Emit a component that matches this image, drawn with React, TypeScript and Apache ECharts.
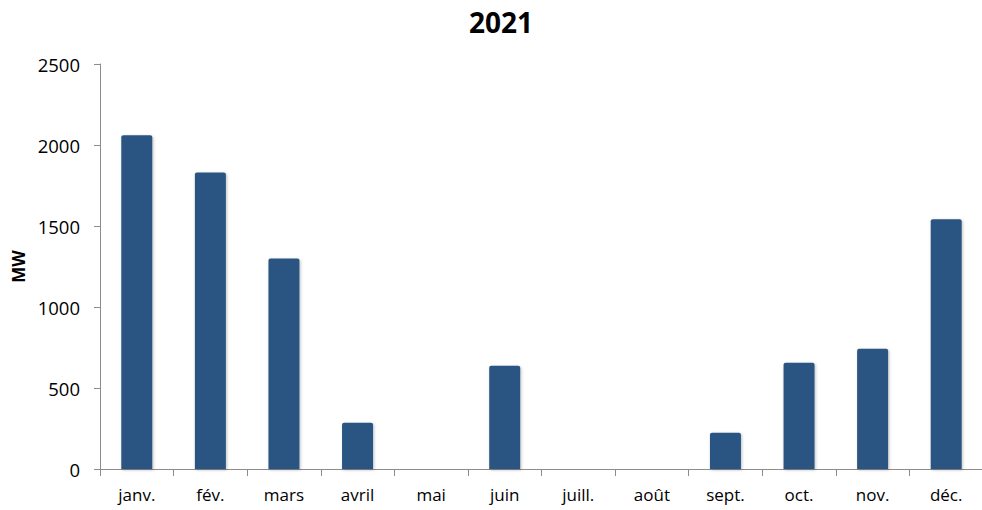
import React, { useEffect, useRef } from "react";
import * as echarts from "echarts";

const months = ["janv.", "fév.", "mars", "avril", "mai", "juin", "juill.", "août", "sept.", "oct.", "nov.", "déc."];
const mwValues = [2060, 1830, 1300, 285, 0, 637, 0, 0, 223, 656, 743, 1541];
const yTicks = [0, 500, 1000, 1500, 2000, 2500];

export default function App() {
  const ref = useRef<HTMLDivElement>(null);
  useEffect(() => {
    if (!ref.current) return;
    const chart = echarts.init(ref.current, undefined, { renderer: "svg" });
    const font = "'Open Sans', Lato, 'Noto Sans', sans-serif";
    chart.setOption({
      animation: false,
      backgroundColor: "#ffffff",
      title: {
        text: "2021",
        left: 496,
        textAlign: "center",
        top: 3,
        textStyle: { fontFamily: font, fontSize: 28, fontWeight: "bold", color: "#000" },
      },
      grid: { left: 100, top: 64, width: 883, height: 405, outerBoundsMode: "none", containLabel: false },
      xAxis: {
        type: "category",
        data: months,
        axisLine: { lineStyle: { color: "#8c8c8c", width: 1 } },
        axisTick: { show: true, length: 7, lineStyle: { color: "#8c8c8c" } },
        axisLabel: { color: "#000", fontFamily: font, fontSize: 17, margin: 17 },
        splitLine: { show: false },
      },
      yAxis: {
        type: "value",
        min: yTicks[0],
        max: yTicks[yTicks.length - 1],
        interval: 500,
        name: "MW",
        nameLocation: "middle",
        nameGap: 73,
        nameTextStyle: { fontFamily: font, fontSize: 17, fontWeight: "bold", color: "#000" },
        axisLine: { show: true, lineStyle: { color: "#8c8c8c", width: 1 } },
        axisTick: { show: true, length: 6, lineStyle: { color: "#8c8c8c" } },
        axisLabel: {
          color: "#000",
          fontFamily: font,
          fontSize: 18.5,
          margin: 20,
          formatter: (v: number) => String(v),
        },
        splitLine: { show: false },
      },
      series: [
        {
          type: "bar",
          data: mwValues,
          barWidth: 31,
          itemStyle: {
            color: "#2c5583",
            borderRadius: [2, 2, 0, 0],
            shadowColor: "rgba(0,0,0,0.25)",
            shadowBlur: 3,
            shadowOffsetX: 1,
            shadowOffsetY: 1,
          },
        },
      ],
    });
    return () => chart.dispose();
  }, []);
  return (
    <div
      ref={ref}
      style={{ position: "fixed", left: 0, top: 0, width: 982, height: 510, background: "#fff" }}
    />
  );
}
